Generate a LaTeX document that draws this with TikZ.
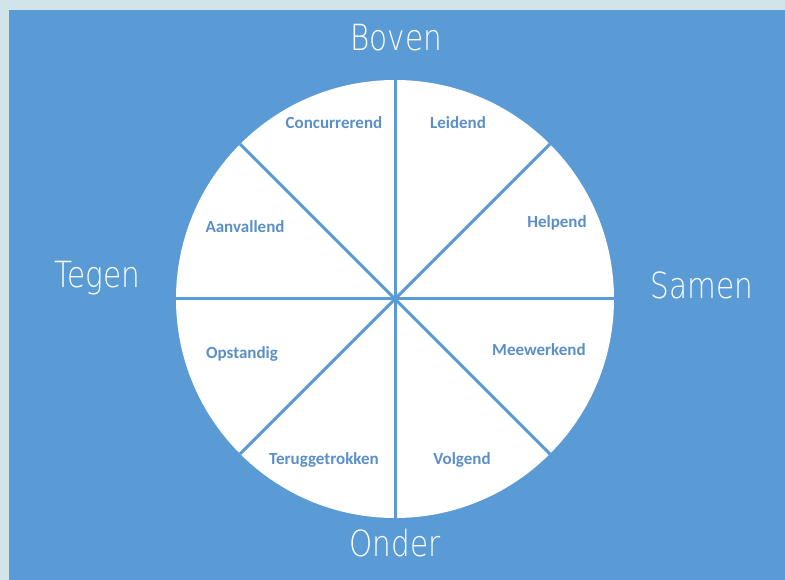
\documentclass[tikz,border=0pt]{standalone}
\usepackage{fontspec}
\newfontfamily\inner{Carlito}
\newfontfamily\hand{DejaVu Sans ExtraLight}[FakeStretch=0.82]
\definecolor{bgblue}{HTML}{5B9BD5}
\definecolor{frame}{HTML}{D0E4EA}
\definecolor{txtblue}{HTML}{5A8FC8}
\begin{document}
\begin{tikzpicture}[x=1pt,y=-1pt,
  seg/.style={font=\inner\bfseries\fontsize{17}{19}\selectfont,text=txtblue},
  side/.style={font=\hand\fontsize{36}{40}\selectfont,text=white},
  spoke/.style={draw=bgblue,line width=3pt}]
\fill[frame] (0,0) rectangle (785,580);
\fill[bgblue] (9,10) rectangle (785,580);
\useasboundingbox (0,0) rectangle (785,580);
\node[circle,fill=white,minimum size=438pt,inner sep=0pt] (c) at (395,299) {};
\draw[spoke] (c.north) -- (c.south);
\draw[spoke] (c.east) -- (c.west);
\draw[spoke] (c.45) -- (c.225);
\draw[spoke] (c.135) -- (c.315);
\node[seg] (concurrerend) at (334,123) {Concurrerend};
\node[seg] (leidend) at (458,123) {Leidend};
\node[seg] (helpend) at (557,223) {Helpend};
\node[seg] (aanvallend) at (245,227) {Aanvallend};
\node[seg] (opstandig) at (242,354) {Opstandig};
\node[seg] (meewerkend) at (539,350) {Meewerkend};
\node[seg] (teruggetrokken) at (324,460) {Teruggetrokken};
\node[seg] (volgend) at (462,460) {Volgend};
\node[side] (boven) at (396,38) {Boven};
\node[side] (tegen) at (97,278) {Tegen};
\node[side] (samen) at (702,285) {Samen};
\node[side] (onder) at (395,543) {Onder};
\end{tikzpicture}
\end{document}
